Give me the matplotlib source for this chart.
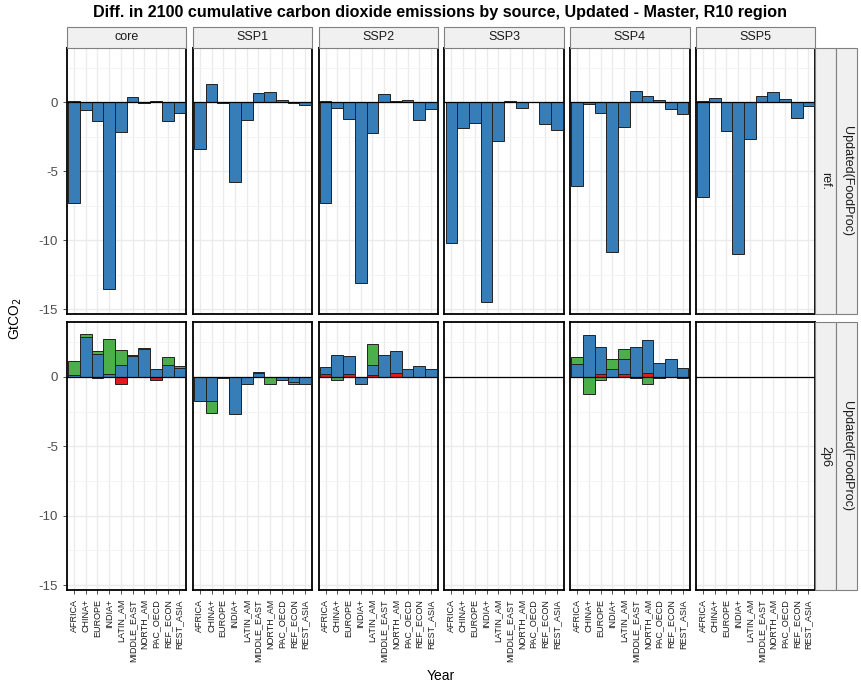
import matplotlib
matplotlib.use("Agg")
import matplotlib.pyplot as plt
import numpy as np
from matplotlib.patches import Rectangle

plt.rcParams['font.family'] = ['Liberation Sans', 'DejaVu Sans']

regions = ["AFRICA", "CHINA+", "EUROPE", "INDIA+", "LATIN_AM", "MIDDLE_EAST",
           "NORTH_AM", "PAC_OECD", "REF_ECON", "REST_ASIA"]
scenarios = ["core", "SSP1", "SSP2", "SSP3", "SSP4", "SSP5"]
policies = ["ref.", "2p6"]

# GtCO2 differences per source, one row per scenario (core, SSP1..SSP5)
ref_red = [
    [0.08, 0, 0, 0, 0, 0, 0, 0, 0, 0],
    [0, 0, 0, 0, 0, 0, 0, 0, 0, 0],
    [0.10, 0, 0, 0, 0, 0, 0, 0, 0, 0],
    [0, 0, 0, 0, 0, 0, 0, 0, 0, 0],
    [0, 0, 0, 0, 0, 0, 0, 0, 0, 0],
    [0.08, 0, 0, 0, 0.06, 0, 0.06, 0, 0, 0],
]
ref_blue = [
    [-7.30, -0.57, -1.35, -13.55, -2.13, 0.43, -0.05, 0.14, -1.33, -0.74],
    [-3.40, 1.35, -0.05, -5.80, -1.30, 0.67, 0.74, 0.20, -0.05, -0.15],
    [-7.30, -0.40, -1.18, -13.10, -2.25, 0.58, 0.10, 0.15, -1.30, -0.48],
    [-10.20, -1.87, -1.46, -14.50, -2.78, 0.10, -0.41, 0.02, -1.60, -2.00],
    [-6.05, -0.10, -0.77, -10.84, -1.78, 0.81, 0.45, 0.17, -0.46, -0.86],
    [-6.86, 0.30, -2.06, -11.00, -2.65, 0.44, 0.67, 0.26, -1.10, -0.28],
]
ref_green = [[0] * 10 for _ in scenarios]

p26_red = [
    [0, 0, -0.10, 0, -0.50, 0, 0, -0.20, 0, 0],
    [0, 0, 0, 0, 0, 0, 0, 0, 0, 0],
    [0.24, 0, 0.17, 0, 0.14, 0, 0.31, 0, 0, 0],
    [0, 0, 0, 0, 0, 0, 0, 0, 0, 0],
    [0, 0, 0.19, 0, 0.17, 0, 0.29, 0, 0, -0.08],
    [0, 0, 0, 0, 0, 0, 0, 0, 0, 0],
]
p26_blue = [
    [0.14, 2.85, 1.65, 0.20, 0.82, 1.53, 2.00, 0.53, 0.86, 0.65],
    [-1.77, -1.77, -0.05, -2.66, -0.50, 0.29, 0, -0.20, -0.38, -0.55],
    [0.48, 1.56, 1.32, -0.55, 0.70, 1.58, 1.54, 0.53, 0.77, 0.53],
    [0, 0, 0, 0, 0, 0, 0, 0, 0, 0],
    [0.89, 3.00, 1.97, 0.53, 1.08, 2.16, 2.35, 1.03, 1.27, 0.67],
    [0, 0, 0, 0, 0, 0, 0, 0, 0, 0],
]
p26_green = [
    [0.99, 0.20, 0.24, 2.53, 1.12, 0.02, 0.05, 0, 0.60, 0.15],
    [0, -0.83, 0, 0, 0, 0.05, -0.50, -0.05, -0.12, 0],
    [0, -0.24, 0, 0, 1.49, 0, 0, 0, 0, 0],
    [0, 0, 0, 0, 0, 0, 0, 0, 0, 0],
    [0.55, -1.20, -0.24, 0.79, 0.74, -0.10, -0.55, -0.10, 0, 0],
    [0, 0, 0, 0, 0, 0, 0, 0, 0, 0],
]

series = {
    "ref.": [ref_red, ref_blue, ref_green],
    "2p6": [p26_red, p26_blue, p26_green],
}
colors = ["#E41A1C", "#377EB8", "#4DAF4A"]

W, H = 861, 686
fig = plt.figure(figsize=(W / 100, H / 100), dpi=100)


def fx(px):
    return px / W


def fy(px):
    return 1 - px / H


left, pw, gap = 67, 119.4, 6.4
rows_px = [(48, 314), (322, 590)]
strip_top, strip_h = 27, 21
x = np.arange(len(regions))

for r, pol in enumerate(policies):
    top, bot = rows_px[r]
    for c, scen in enumerate(scenarios):
        x0 = left + c * (pw + gap)
        ax = fig.add_axes([fx(x0), fy(bot), pw / W, (bot - top) / H])
        ax.set_xlim(-0.6, 9.6)
        ax.set_ylim(-15.35, 3.95)

        # stacked bars, positives up and negatives down from zero
        pos = np.zeros(len(regions))
        neg = np.zeros(len(regions))
        for vals, col in zip(series[pol], colors):
            v = np.array(vals[c], dtype=float)
            vp = np.where(v > 0, v, 0)
            vn = np.where(v < 0, v, 0)
            m = vp > 0
            if m.any():
                ax.bar(x[m], vp[m], width=1.0, bottom=pos[m], color=col,
                       edgecolor="#222222", linewidth=0.7, zorder=3)
            m = vn < 0
            if m.any():
                ax.bar(x[m], vn[m], width=1.0, bottom=neg[m], color=col,
                       edgecolor="#222222", linewidth=0.7, zorder=3)
            pos += vp
            neg += vn

        ax.axhline(0, color="black", linewidth=0.9, zorder=4)

        ax.set_yticks([0, -5, -10, -15])
        ax.set_yticks([2.5, -2.5, -7.5, -12.5], minor=True)
        ax.set_xticks(x)
        ax.grid(True, which="major", color="#EBEBEB", linewidth=1.0, zorder=0)
        ax.grid(True, which="minor", axis="y", color="#F2F2F2", linewidth=0.6, zorder=0)
        ax.set_axisbelow(True)
        for s in ax.spines.values():
            s.set_color("black")
            s.set_linewidth(1.3)
        ax.tick_params(which="minor", length=0)
        ax.tick_params(which="major", length=3, width=0.6, color="#333333")
        if c == 0:
            ax.set_yticklabels(["0", "-5", "-10", "-15"], fontsize=9.5, color="#4D4D4D")
        else:
            ax.tick_params(axis="y", left=False, labelleft=False)
        if r == 1:
            ax.set_xticklabels(regions, rotation=90, fontsize=6.5, color="#1A1A1A")
        else:
            ax.tick_params(axis="x", bottom=False, labelbottom=False)

        # column strip
        if r == 0:
            fig.patches.append(Rectangle((fx(x0), fy(strip_top + strip_h)), pw / W, strip_h / H,
                                         transform=fig.transFigure, facecolor="#F0F0F0",
                                         edgecolor="#808080", linewidth=0.8))
            fig.text(fx(x0 + pw / 2), fy(strip_top + strip_h / 2), scen, ha="center",
                     va="center", fontsize=9, color="#1A1A1A")

    # row strips: inner policy label, outer model label
    for sx, sw, label in [(815, 21, pol), (836, 21, "Updated(FoodProc)")]:
        fig.patches.append(Rectangle((fx(sx), fy(bot)), sw / W, (bot - top) / H,
                                     transform=fig.transFigure, facecolor="#F0F0F0",
                                     edgecolor="#808080", linewidth=0.8))
        fig.text(fx(sx + sw / 2), fy((top + bot) / 2), label, rotation=-90, ha="center",
                 va="center", fontsize=9, color="#1A1A1A")

fig.text(fx(440), fy(12), "Diff. in 2100 cumulative carbon dioxide emissions by source, "
         "Updated - Master, R10 region", ha="center", va="center", fontsize=11.6,
         fontweight="bold")
fig.text(fx(16), fy(319), "GtCO$_2$", rotation=90, ha="center", va="center", fontsize=10)
fig.text(fx(441), fy(676), "Year", ha="center", va="center", fontsize=10)

fig.savefig("out.png", dpi=100)
